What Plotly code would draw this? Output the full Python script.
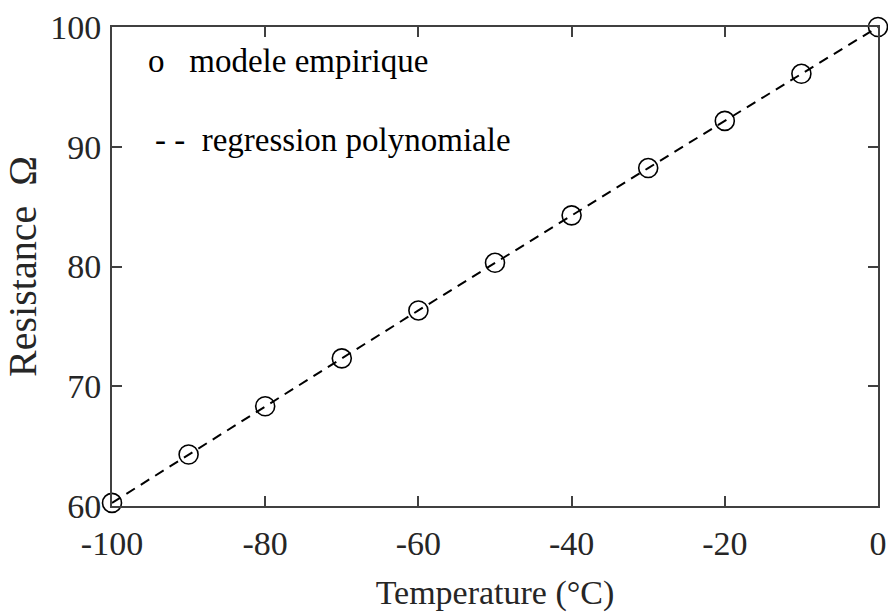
import plotly.graph_objects as go

temperature = [-100, -90, -80, -70, -60, -50, -40, -30, -20, -10, 0]
resistance = [60.26, 64.30, 68.33, 72.33, 76.33, 80.31, 84.27, 88.22, 92.16, 96.09, 100.0]
fit_resistance = [60.26, 64.30, 68.33, 72.33, 76.33, 80.31, 84.27, 88.22, 92.16, 96.09, 100.0]
x_ticks = [-100, -80, -60, -40, -20, 0]
y_ticks = [60, 70, 80, 90, 100]

font_family = "Liberation Serif"
axis_color = "#404040"
text_color = "#262626"

fig = go.Figure()
fig.add_trace(go.Scatter(
    x=temperature, y=fit_resistance, mode="lines",
    line=dict(color="black", width=2, dash="10px,7px"),
    cliponaxis=False, showlegend=False))
fig.add_trace(go.Scatter(
    x=temperature, y=resistance, mode="markers",
    marker=dict(symbol="circle-open", size=19, color="black", line=dict(width=1.6)),
    cliponaxis=False, showlegend=False))

fig.add_annotation(x=0.045, y=0.928, xref="paper", yref="paper", xanchor="left", yanchor="middle",
                   text="o   modele empirique", showarrow=False,
                   font=dict(family=font_family, size=33, color="black"))
fig.add_annotation(x=0.054, y=0.764, xref="paper", yref="paper", xanchor="left", yanchor="middle",
                   text="- -  regression polynomiale", showarrow=False,
                   font=dict(family=font_family, size=33, color="black"))

axis_common = dict(
    showline=True, linecolor=axis_color, linewidth=2, mirror="ticks",
    ticks="inside", ticklen=10, tickwidth=1.5, tickcolor=axis_color,
    showgrid=False, zeroline=False, automargin=False,
    tickfont=dict(family=font_family, size=34, color=text_color),
)

fig.update_layout(
    width=888, height=612,
    margin=dict(l=112, r=10, t=27, b=106),
    plot_bgcolor="white", paper_bgcolor="white",
    xaxis=dict(range=[-100, 0], tickvals=x_ticks, ticktext=[str(v) for v in x_ticks],
               ticklabelstandoff=6,
               title=dict(text="Temperature (°C)", font=dict(family=font_family, size=34, color=text_color), standoff=20),
               **axis_common),
    yaxis=dict(range=[60, 100], tickvals=y_ticks, ticktext=[str(v) for v in y_ticks],
               ticklabelstandoff=2,
               title=dict(text="Resistance  Ω", font=dict(family=font_family, size=40, color=text_color), standoff=9),
               **axis_common),
)

fig.write_html("out.html", config={"displayModeBar": False},
               post_script="document.body.style.margin='0';document.body.style.overflow='hidden';")
